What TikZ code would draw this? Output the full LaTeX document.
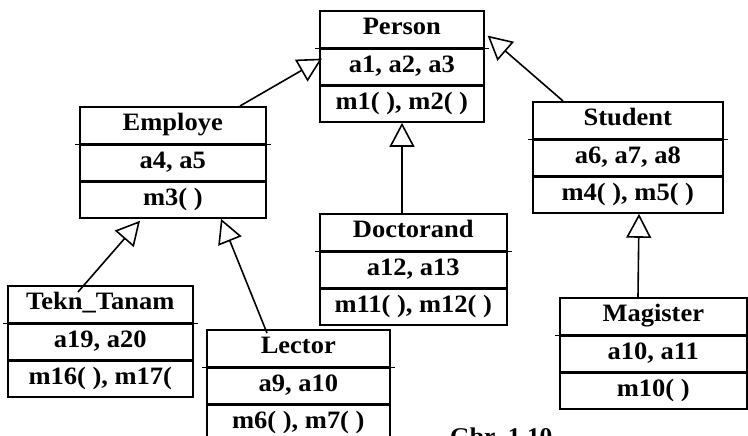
\documentclass[tikz,border=0pt]{standalone}
\usepackage{fontspec}
\setmainfont{Liberation Serif}[FakeStretch=1.06]
\usetikzlibrary{arrows.meta,calc}
\tikzset{
  comp/.style={draw, line width=1.6pt, rectangle, anchor=north west, inner sep=0pt,
    font=\fontsize{25}{28}\selectfont\bfseries, text height=16pt, text depth=5pt, align=center},
  inh/.style={line width=1.6pt, -{Triangle[open, length=24pt, width=25pt, line width=1.6pt]}},
  divline/.style={line width=1.6pt}
}
\newcommand\umlbox[7]{%
  \node[comp, minimum width=#4pt, minimum height=37pt] (#1) at (#2,#3) {#5};
  \node[comp, minimum width=#4pt, minimum height=35pt] (#1-a) at (#1.south west) {#6};
  \node[comp, minimum width=#4pt, minimum height=36pt] (#1-m) at (#1-a.south west) {#7};
  \draw[divline] ($(#1.south west)+(-4,0)$) -- ($(#1.south east)+(4,0)$);
}
\begin{document}
\begin{tikzpicture}[x=1pt,y=-1pt]
  \clip (0,0) rectangle (748,436);
  \fill[white] (0,0) rectangle (748,436);
  \umlbox{person}{319}{10}{164}{Person}{a1, a2, a3}{m1( ), m2( )}
  \umlbox{employe}{79}{106}{186}{Employe}{a4, a5}{m3( )}
  \umlbox{student}{532}{101}{190}{Student}{a6, a7, a8}{m4( ), m5( )}
  \umlbox{doctorand}{319}{213}{187}{Doctorand}{a12, a13}{m11( ), m12( )}
  \umlbox{tekn}{7}{285}{185}{Tekn\_Tanam}{a19, a20}{m16( ), m17(}
  \umlbox{lector}{206}{329}{183}{Lector}{a9, a10}{m6( ), m7( )}
  \umlbox{magister}{559}{297}{187}{Magister}{a10, a11}{m10( )}
  % inheritance arrows
  \draw[inh] ($(employe.north west)+(161,0)$) -- ($(person-a.north west)+(3,10)$);
  \draw[inh] ($(student.north west)+(31,0)$) -- ($(person-a.north east)+(3,-13)$);
  \draw[inh] ($(doctorand.north west)+(83,0)$) -- ($(person-m.south west)+(83,0)$);
  \draw[inh] ($(tekn.north west)+(71,7)$) -- ($(employe-m.south west)+(61,2)$);
  \draw[inh] ($(lector.north west)+(61,4)$) -- ($(employe-m.south west)+(142,0)$);
  \draw[inh] ($(magister.north west)+(79,0)$) -- ($(student-m.south west)+(107,0)$);
  \node[anchor=north west, inner sep=0pt, font=\fontsize{24}{28}\selectfont\bfseries] (cap) at (450,428) {Gbr. 1.10};
\end{tikzpicture}
\end{document}
